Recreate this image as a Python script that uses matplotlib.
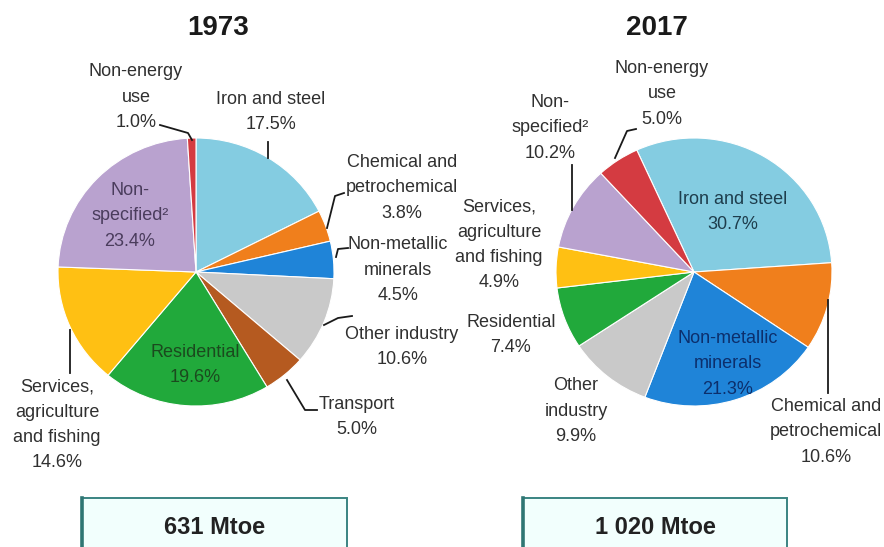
import matplotlib
matplotlib.use('Agg')
import matplotlib.pyplot as plt
import matplotlib.patches as patches
from matplotlib.lines import Line2D
from matplotlib import font_manager

W, H = 884, 547

years = ['1973', '2017']
totals = ['631 Mtoe', '1 020 Mtoe']

sectors_1973 = ['iron', 'chemical', 'nonmetallic', 'other', 'transport',
                'residential', 'services', 'nonspecified', 'nonenergy']
shares_1973 = [17.5, 3.8, 4.5, 10.6, 5.0, 19.6, 14.6, 23.4, 1.0]
names_1973 = ['Iron and steel', 'Chemical and\npetrochemical', 'Non-metallic\nminerals',
              'Other industry', 'Transport', 'Residential',
              'Services,\nagriculture\nand fishing', 'Non-\nspecified²', 'Non-energy\nuse']

sectors_2017 = ['iron', 'chemical', 'nonmetallic', 'other',
                'residential', 'services', 'nonspecified', 'nonenergy']
shares_2017 = [30.7, 10.6, 21.3, 9.9, 7.4, 4.9, 10.2, 5.0]
names_2017 = ['Iron and steel', 'Chemical and\npetrochemical', 'Non-metallic\nminerals',
              'Other\nindustry', 'Residential',
              'Services,\nagriculture\nand fishing', 'Non-\nspecified²', 'Non-energy\nuse']

colors = {
    'iron': '#84CCE1', 'chemical': '#F07F1C', 'nonmetallic': '#1F84D8',
    'other': '#C9C9C9', 'transport': '#B55A20', 'residential': '#21A93B',
    'services': '#FFC013', 'nonspecified': '#B9A2CF', 'nonenergy': '#D43B41',
}

plt.rcParams['font.family'] = ['Liberation Sans', 'DejaVu Sans']
names_installed = {f.name for f in font_manager.fontManager.ttflist}
box_font = 'Liberation Sans Narrow' if 'Liberation Sans Narrow' in names_installed else 'Liberation Sans'
box_size = 20 if box_font == 'Liberation Sans Narrow' else 17

TXT = '#303030'

# label placement in pixels: sector -> (x, y, text colour, leader line points)
layout_1973 = {
    'nonenergy': (136, 97, TXT, [(160, 125), (188, 133), (192, 140)]),
    'iron': (271, 112, TXT, [(268, 142), (268, 158)]),
    'chemical': (402, 188, TXT, [(344, 193), (335, 196), (327, 228)]),
    'nonmetallic': (398, 270, TXT, [(348, 248), (338, 249), (336, 257)]),
    'other': (402, 347, TXT, [(352, 316), (338, 318), (324, 325)]),
    'transport': (357, 417, TXT, [(287, 380), (305, 410), (317, 410)]),
    'residential': (195, 365, '#1B4A1E', None),
    'nonspecified': (130, 216, '#4A3C5C', None),
    'services': (57, 425, TXT, [(70, 330), (70, 373)]),
}
layout_2017 = {
    'nonenergy': (662, 94, TXT, [(636, 129), (627, 131), (615, 158)]),
    'nonspecified': (550, 128, TXT, [(572, 165), (572, 210)]),
    'services': (499, 245, TXT, None),
    'residential': (511, 335, TXT, None),
    'other': (576, 411, TXT, None),
    'iron': (733, 212, '#1E3D4C', None),
    'nonmetallic': (728, 364, '#0C2F6C', None),
    'chemical': (826, 432, TXT, [(828, 300), (828, 393)]),
}

pies = [
    dict(year=years[0], total=totals[0], sectors=sectors_1973, shares=shares_1973,
         names=names_1973, layout=layout_1973, center=(196, 272), start=90,
         title_x=218, box=(82, 347)),
    dict(year=years[1], total=totals[1], sectors=sectors_2017, shares=shares_2017,
         names=names_2017, layout=layout_2017, center=(694, 272), start=114.5,
         title_x=657, box=(523, 787)),
]

rx, ry = 138, 134

fig = plt.figure(figsize=(W / 100, H / 100), dpi=100)
fig.patch.set_facecolor('white')


def fx(x):
    return x / W


def fy(y):
    return 1 - y / H


for p in pies:
    cx, cy = p['center']
    ax = fig.add_axes([(cx - rx) / W, 1 - (cy + ry) / H, 2 * rx / W, 2 * ry / H])
    ax.pie(p['shares'], colors=[colors[s] for s in p['sectors']], startangle=p['start'],
           counterclock=False, radius=1,
           wedgeprops=dict(edgecolor='white', linewidth=0.8))
    ax.set_aspect('auto')
    ax.set_xlim(-1, 1)
    ax.set_ylim(-1, 1)
    ax.axis('off')

    for sector, name, share in zip(p['sectors'], p['names'], p['shares']):
        x, y, col, leader = p['layout'][sector]
        fig.text(fx(x), fy(y), f'{name}\n{share:.1f}%', ha='center', va='center',
                 fontsize=13, color=col, linespacing=1.62, multialignment='center')
        if leader:
            xs = [fx(a) for a, b in leader]
            ys = [fy(b) for a, b in leader]
            fig.add_artist(Line2D(xs, ys, color='#1a1a1a', linewidth=1.3))

    fig.text(fx(p['title_x']), fy(28), p['year'], ha='center', va='center',
             fontsize=20, fontweight='bold', color='#1a1a1a')

    # total consumption box along the bottom edge
    x0, x1 = p['box']
    rect = patches.Rectangle((fx(x0), fy(560)), fx(x1) - fx(x0), fy(498) - fy(560),
                             transform=fig.transFigure, facecolor='#F2FFFD',
                             edgecolor='#3A8482', linewidth=1.4)
    fig.add_artist(rect)
    fig.add_artist(Line2D([fx(x0), fx(x0)], [fy(498), fy(547)], color='#2F7673',
                          linewidth=2.6))
    fig.text(fx((x0 + x1) / 2), fy(527), p['total'], ha='center', va='center',
             fontsize=box_size, fontweight='bold', fontfamily=box_font, color='#222222')

fig.savefig('out.png', dpi=100)
